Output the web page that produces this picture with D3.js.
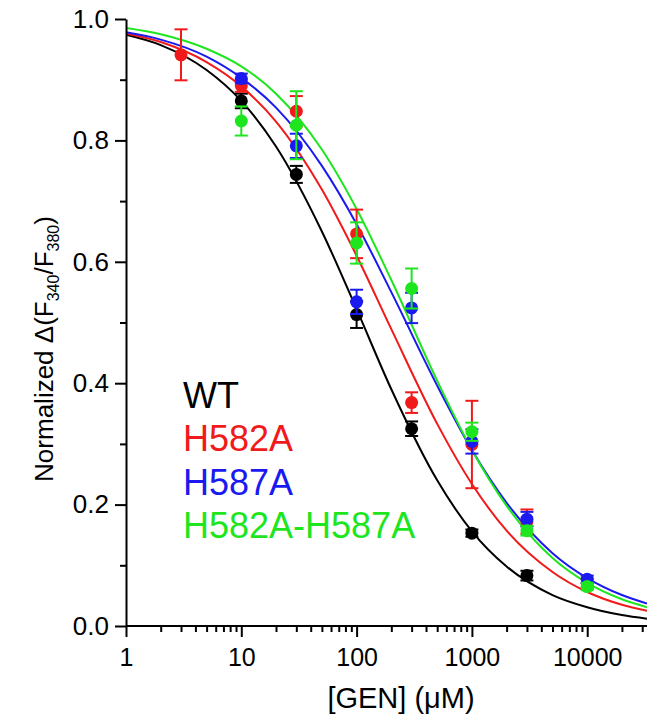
<!DOCTYPE html>
<html>
<head>
<meta charset="utf-8">
<script src="https://cdn.jsdelivr.net/npm/d3@7"></script>
<style>
  body { margin: 0; background: #fff; }
  svg { display: block; font-family: "Liberation Sans", Arial, Helvetica, sans-serif; }
</style>
</head>
<body>
<svg id="chart" width="654" height="721"></svg>
<script>
// ---------- data ----------
const seriesNames = ["WT", "H582A", "H587A", "H582A-H587A"];
const seriesColors = ["#000000", "#f01a1a", "#1a1af0", "#1ee61e"];
const conc = [3, 10, 30, 100, 300, 1000, 3000, 10000];

const wtMean   = [null, 0.865, 0.744, 0.513, 0.325, 0.153, 0.083, null];
const wtErr    = [null, 0.012, 0.014, 0.022, 0.012, 0.006, 0.008, null];
const h582Mean = [0.941, 0.890, 0.848, 0.646, 0.368, 0.299, 0.172, 0.070];
const h582Err  = [0.042, 0.010, 0.025, 0.040, 0.017, 0.072, 0.020, 0.008];
const h587Mean = [null, 0.902, 0.791, 0.534, 0.524, 0.304, 0.176, 0.077];
const h587Err  = [null, 0.008, 0.020, 0.020, 0.025, 0.020, 0.012, 0.006];
const dblMean  = [null, 0.832, 0.825, 0.631, 0.556, 0.320, 0.157, 0.065];
const dblErr   = [null, 0.024, 0.056, 0.034, 0.033, 0.015, 0.008, 0.006];

// fitted curves, sampled along the x axis
const fitConc = [1, 2, 5, 10, 20, 50, 100, 200, 500, 1000, 2000, 5000, 10000, 20000, 33000];
const wtFit   = [0.974, 0.957, 0.916, 0.865, 0.790, 0.650, 0.522, 0.390, 0.240, 0.156, 0.098, 0.051, 0.031, 0.018, 0.012];
const h582Fit = [0.976, 0.962, 0.929, 0.889, 0.831, 0.719, 0.610, 0.489, 0.333, 0.234, 0.157, 0.089, 0.056, 0.035, 0.025];
const h587Fit = [0.978, 0.966, 0.938, 0.903, 0.854, 0.758, 0.662, 0.550, 0.396, 0.290, 0.203, 0.120, 0.079, 0.051, 0.037];
const dblFit  = [0.985, 0.975, 0.951, 0.922, 0.877, 0.785, 0.687, 0.570, 0.404, 0.290, 0.198, 0.112, 0.071, 0.044, 0.031];

const xTickValues = [1, 10, 100, 1000, 10000];
const xTickLabels = ["1", "10", "100", "1000", "10000"];
const yTickValues = [0.0, 0.2, 0.4, 0.6, 0.8, 1.0];
const yMinorValues = [0.1, 0.3, 0.5, 0.7, 0.9];
const xDomain = [1, 33000];

// ---------- build ----------
const means = [wtMean, h582Mean, h587Mean, dblMean];
const errs = [wtErr, h582Err, h587Err, dblErr];
const fits = [wtFit, h582Fit, h587Fit, dblFit];

const svg = d3.select("#chart");
const x = d3.scaleLog().domain(xDomain).range([126, 647]);
const y = d3.scaleLinear().domain([0, 1]).range([626, 19]);

const xMinor = [];
for (let d = 1; d <= 10000; d *= 10) for (let k = 2; k <= 9; k++) if (d * k <= xDomain[1]) xMinor.push(d * k);

// clip
svg.append("defs").append("clipPath").attr("id", "plotclip")
  .append("rect").attr("x", 126).attr("y", 0).attr("width", 521).attr("height", 626);

// fitted curves
const line = d3.line().x(d => x(d[0])).y(d => y(d[1])).curve(d3.curveMonotoneX);
const curves = svg.append("g").attr("clip-path", "url(#plotclip)");
fits.forEach((f, i) => {
  curves.append("path")
    .datum(fitConc.map((c, j) => [c, f[j]]))
    .attr("d", line)
    .attr("fill", "none")
    .attr("stroke", seriesColors[i])
    .attr("stroke-width", 2);
});

// points with error bars
const pts = svg.append("g");
means.forEach((m, i) => {
  const data = conc.map((c, j) => ({c, v: m[j], e: errs[i][j]})).filter(d => d.v !== null);
  const g = pts.append("g");
  const col = seriesColors[i];
  data.forEach(d => {
    const cx = x(d.c);
    g.append("line").attr("x1", cx).attr("x2", cx).attr("y1", y(d.v - d.e)).attr("y2", y(d.v + d.e))
      .attr("stroke", col).attr("stroke-width", 2);
    [d.v - d.e, d.v + d.e].forEach(v => {
      g.append("line").attr("x1", cx - 6.5).attr("x2", cx + 6.5).attr("y1", y(v)).attr("y2", y(v))
        .attr("stroke", col).attr("stroke-width", 2);
    });
    g.append("circle").attr("cx", cx).attr("cy", y(d.v)).attr("r", 6.5).attr("fill", col);
  });
});

// axes
const xAxis = d3.axisBottom(x).tickValues(xTickValues)
  .tickFormat((d, i) => xTickLabels[i]).tickSize(11).tickSizeOuter(0).tickPadding(11);
const gx = svg.append("g").attr("transform", "translate(0,626)").call(xAxis);
gx.select(".domain").attr("stroke-width", 2).attr("d", "M126,0H647");
gx.selectAll(".tick line").attr("stroke-width", 2);
gx.selectAll(".tick text").attr("font-size", 25).attr("fill", "#000").attr("font-family", "Liberation Sans, Arial, sans-serif");

const xMinorAxis = d3.axisBottom(x).tickValues(xMinor).tickFormat("").tickSize(6).tickSizeOuter(0);
const gxm = svg.append("g").attr("transform", "translate(0,626)").call(xMinorAxis);
gxm.select(".domain").remove();
gxm.selectAll(".tick line").attr("stroke-width", 2);

const yAxis = d3.axisLeft(y).tickValues(yTickValues).tickFormat(d3.format(".1f"))
  .tickSize(11).tickSizeOuter(0).tickPadding(6);
const gy = svg.append("g").attr("transform", "translate(126,0)").call(yAxis);
gy.select(".domain").attr("stroke-width", 2);
gy.selectAll(".tick line").attr("stroke-width", 2);
gy.selectAll(".tick text").attr("font-size", 26).attr("fill", "#000").attr("font-family", "Liberation Sans, Arial, sans-serif");

const yMinorAxis = d3.axisLeft(y).tickValues(yMinorValues).tickFormat("").tickSize(6).tickSizeOuter(0);
const gym = svg.append("g").attr("transform", "translate(126,0)").call(yMinorAxis);
gym.select(".domain").remove();
gym.selectAll(".tick line").attr("stroke-width", 2);

// axis titles
svg.append("text").attr("x", 401).attr("y", 708).attr("text-anchor", "middle")
  .attr("font-size", 29).attr("fill", "#000").text("[GEN] (μM)");

const yl = svg.append("text").attr("transform", "translate(53,349) rotate(-90)")
  .attr("text-anchor", "middle").attr("font-size", 26).attr("fill", "#000");
yl.append("tspan").text("Normalized Δ(F");
yl.append("tspan").attr("font-size", 16).attr("dy", 6).text("340");
yl.append("tspan").attr("dy", -6).text("/F");
yl.append("tspan").attr("font-size", 16).attr("dy", 6).text("380");
yl.append("tspan").attr("dy", -6).text(")");

// legend
const legend = svg.append("g");
seriesNames.forEach((n, i) => {
  legend.append("text").attr("x", 183).attr("y", 408 + i * 43.3)
    .attr("font-size", 36).attr("fill", seriesColors[i]).text(n);
});
</script>
</body>
</html>
